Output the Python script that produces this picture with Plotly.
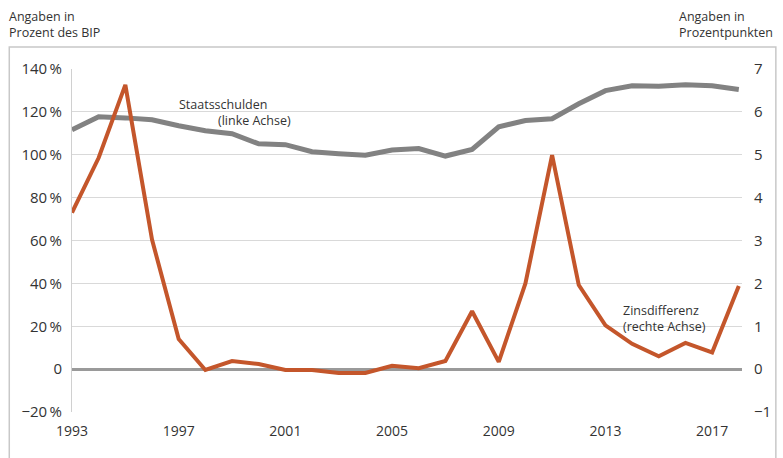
import plotly.graph_objects as go

years = list(range(1993, 2019))
staatsschulden = [111.6, 117.7, 117.2, 116.3, 113.5, 111.2, 109.8, 105.1, 104.7, 101.4,
                  100.5, 99.8, 102.2, 102.9, 99.4, 102.5, 113.0, 116.0, 116.8, 123.8,
                  129.9, 132.2, 131.9, 132.7, 132.2, 130.4]
zinsdifferenz = [3.65, 4.93, 6.63, 3.02, 0.70, -0.02, 0.19, 0.12, -0.02, -0.02,
                 -0.09, -0.09, 0.08, 0.02, 0.19, 1.35, 0.17, 2.0, 4.99, 1.96,
                 1.02, 0.59, 0.30, 0.61, 0.39, 1.94]

left_tickvals = [-20, 0, 20, 40, 60, 80, 100, 120, 140]
left_ticktext = ["\u221220\u2009%", "0", "20\u2009%", "40\u2009%", "60\u2009%", "80\u2009%",
                 "100\u2009%", "120\u2009%", "140\u2009%"]
right_tickvals = [-1, 0, 1, 2, 3, 4, 5, 6, 7]
right_ticktext = ["\u22121", "0", "1", "2", "3", "4", "5", "6", "7"]
x_tickvals = [1993, 1997, 2001, 2005, 2009, 2013, 2017]

FONT = "Open Sans"
TXT = "#333333"
W, H = 783, 458
L, R, T, B = 72, 745, 69, 412

def px(x):
    return (x - L) / (R - L)

def py(y):
    return (B - y) / (B - T)

fig = go.Figure()
fig.add_trace(go.Scatter(x=years, y=staatsschulden, mode="lines",
                         line=dict(color="#828282", width=5), yaxis="y",
                         hoverinfo="skip", showlegend=False))
fig.add_trace(go.Scatter(x=years, y=zinsdifferenz, mode="lines",
                         line=dict(color="#c4562b", width=4), yaxis="y2",
                         hoverinfo="skip", showlegend=False))

fig.update_layout(
    width=W, height=H,
    margin=dict(l=L, r=W - R, t=T, b=H - B, pad=0),
    paper_bgcolor="white", plot_bgcolor="white",
    font=dict(family=FONT, color=TXT),
    xaxis=dict(range=[1993, 2018.12], tickvals=x_tickvals, showgrid=False,
               zeroline=False, showline=False, ticks="outside", ticklen=6,
               tickcolor="rgba(0,0,0,0)", tickfont=dict(size=14, color=TXT)),
    yaxis=dict(range=[-20, 140], tickvals=left_tickvals, ticktext=left_ticktext,
               showgrid=True, gridcolor="#d9d9d9", gridwidth=1,
               zeroline=True, zerolinecolor="#9a9a9a", zerolinewidth=3,
               showline=True, linecolor="#d0d0d0", linewidth=1,
               ticks="outside", ticklen=6, tickcolor="rgba(0,0,0,0)",
               tickfont=dict(size=15, color=TXT)),
    yaxis2=dict(range=[-1, 7], tickvals=right_tickvals, ticktext=right_ticktext,
                overlaying="y", side="right", showgrid=False, zeroline=False,
                showline=False, ticks="outside", ticklen=8,
                tickcolor="rgba(0,0,0,0)", tickfont=dict(size=15, color=TXT)),
)

# frame around the chart
fig.add_shape(type="rect", xref="paper", yref="paper",
              x0=px(9), x1=px(779), y0=py(47), y1=py(480),
              line=dict(color="#c8c8c8", width=1.5), fillcolor="rgba(0,0,0,0)",
              layer="below")

def note(text, x, y, size=13, anchor="left", yanchor="top"):
    fig.add_annotation(text=text, xref="paper", yref="paper", x=px(x), y=py(y),
                       xanchor=anchor, yanchor=yanchor, showarrow=False,
                       borderpad=0,
                       font=dict(size=size, color=TXT, family=FONT), align="left")

NB = "\u00a0"
note("Angaben in<br>Prozent des BIP", 8, 7, size=12.5)
note("Angaben in<br>Prozentpunkten", 681, 7, size=12.5)
note("Staatsschulden<br>" + NB * 12 + "(linke Achse)", 178, 95, size=12.5)
note("Zinsdifferenz<br>(rechte Achse)", 624, 301, size=12.5)

fig.write_html("out.html", config={"displayModeBar": False},
               post_script="document.body.style.margin='0';")
